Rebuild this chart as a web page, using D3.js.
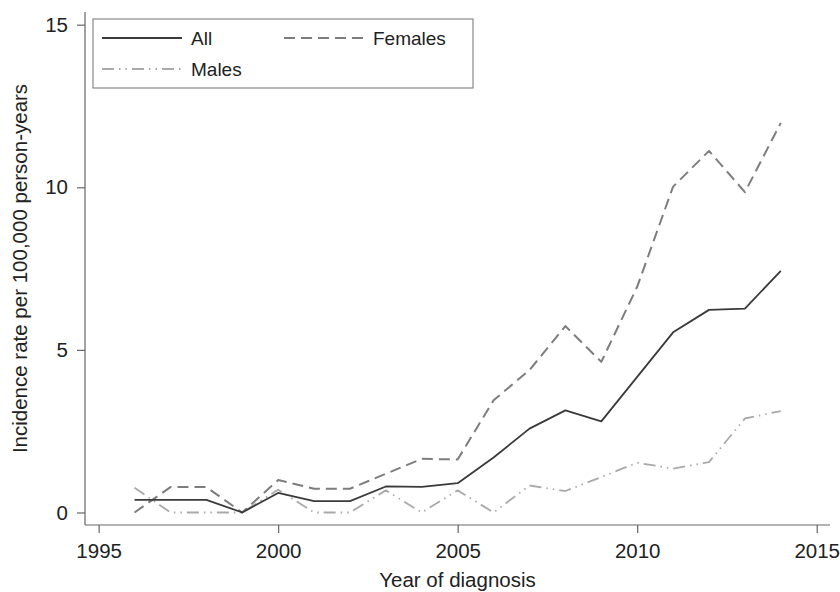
<!DOCTYPE html>
<html>
<head>
<meta charset="utf-8">
<script src="https://cdn.jsdelivr.net/npm/d3@7"></script>
<style>
	body { margin: 0; background: #fff; }
	text { font-family: 'Liberation Sans', Arial, sans-serif; }
</style>
</head>
<body>
<div id="chart"></div>
<script>
const years   = [1996, 1997, 1998, 1999, 2000, 2001, 2002, 2003, 2004, 2005,
                 2006, 2007, 2008, 2009, 2010, 2011, 2012, 2013, 2014];
const all     = [0.39, 0.39, 0.39, 0, 0.6, 0.35, 0.35, 0.8, 0.79, 0.9,
                 1.69, 2.58, 3.14, 2.8, 4.17, 5.54, 6.23, 6.27, 7.43];
const females = [0, 0.78, 0.78, 0, 1.0, 0.73, 0.73, 1.19, 1.65, 1.63,
                 3.45, 4.38, 5.73, 4.63, 6.94, 10.02, 11.12, 9.85, 11.98];
const males   = [0.76, 0, 0, 0, 0.7, 0, 0, 0.68, 0, 0.68,
                 0, 0.83, 0.66, 1.09, 1.53, 1.35, 1.55, 2.89, 3.12];
const xTicks  = [1995, 2000, 2005, 2010, 2015];
const yTicks  = [0, 5, 10, 15];

let width  = 840,
	height = 592,
	fontSize = 20.5,
	legendFont = 19,
	axisColor = '#666';

let series = [
	{name: 'All',     values: all,     color: '#3a3a3a', dash: null,              w: 1.8},
	{name: 'Females', values: females, color: '#7d7d7d', dash: '11,6',            w: 2},
	{name: 'Males',   values: males,   color: '#a9a9a9', dash: '12,5,1.5,5,1.5,5', w: 1.8}
];

let svg = d3.select('#chart').append('svg')
	.attr('width', width)
	.attr('height', height);

// domains padded so the axis lines sit where stata puts them
let x = d3.scaleLinear().domain([1994.62, 2015.37]).range([85, 830]);
let y = d3.scaleLinear().domain([-0.385, 15.39]).range([525, 12]);

let xAxis = svg.append('g')
	.attr('transform', `translate(0, ${y.range()[0]})`)
	.call(d3.axisBottom(x).tickValues(xTicks).tickFormat(d3.format('d')).tickSize(8).tickPadding(10));

let yAxis = svg.append('g')
	.attr('transform', `translate(${x.range()[0]}, 0)`)
	.call(d3.axisLeft(y).tickValues(yTicks).tickSize(8).tickPadding(9));

[xAxis, yAxis].forEach(function(a) {
	a.select('.domain').attr('stroke', axisColor).attr('stroke-width', 1.2);
	a.selectAll('.tick line').attr('stroke', axisColor).attr('stroke-width', 1.2);
	a.selectAll('.tick text')
		.style('font-size', fontSize + 'px')
		.style('font-family', "'Liberation Sans', Arial, sans-serif")
		.attr('fill', '#222');
});
// plain domain lines without end caps
xAxis.select('.domain').attr('d', `M${x.range()[0]},0H${x.range()[1]}`);
yAxis.select('.domain').attr('d', `M0,${y.range()[1]}V${y.range()[0]}`);

let line = d3.line()
	.x((d, i) => x(years[i]))
	.y(d => y(d));

svg.append('g').selectAll('path.series')
	.data(series.slice().reverse())
	.enter().append('path')
	.attr('class', 'series')
	.attr('d', d => line(d.values))
	.attr('fill', 'none')
	.attr('stroke', d => d.color)
	.attr('stroke-width', d => d.w)
	.attr('stroke-dasharray', d => d.dash)
	.attr('stroke-linejoin', 'round');

// axis titles
svg.append('text')
	.attr('x', (x.range()[0] + x.range()[1]) / 2)
	.attr('y', 587)
	.attr('text-anchor', 'middle')
	.style('font-size', fontSize + 'px')
	.attr('fill', '#222')
	.text('Year of diagnosis');

svg.append('text')
	.attr('transform', `translate(27, ${(y.range()[0] + y.range()[1]) / 2}) rotate(-90)`)
	.attr('text-anchor', 'middle')
	.style('font-size', fontSize + 'px')
	.attr('fill', '#222')
	.text('Incidence rate per 100,000 person-years');

// legend
let legend = svg.append('g').attr('class', 'legend');
legend.append('rect')
	.attr('x', 93).attr('y', 19)
	.attr('width', 380).attr('height', 69)
	.attr('fill', '#fff')
	.attr('stroke', '#888')
	.attr('stroke-width', 1.2);

let legendPos = [[102, 38], [284, 38], [102, 69]];
let legendGs = legend.selectAll('.legend-gs')
	.data(series).enter().append('g')
	.attr('class', 'legend-gs')
	.attr('transform', (d, i) => `translate(${legendPos[i][0]}, ${legendPos[i][1]})`);

legendGs.append('line')
	.attr('x1', 0).attr('x2', 80)
	.attr('y1', 0).attr('y2', 0)
	.attr('stroke', d => d.color)
	.attr('stroke-width', d => d.w)
	.attr('stroke-dasharray', d => d.dash);

legendGs.append('text')
	.attr('x', 89)
	.attr('y', 7)
	.style('font-size', legendFont + 'px')
	.attr('fill', '#222')
	.text(d => d.name);
</script>
</body>
</html>
